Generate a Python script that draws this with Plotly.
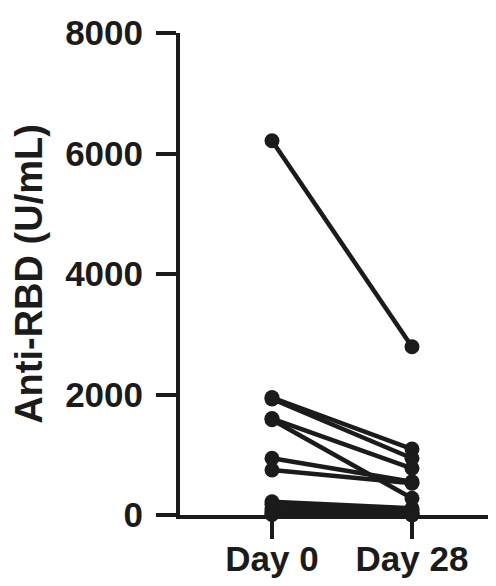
import plotly.graph_objects as go

categories = ["Day 0", "Day 28"]
day0 = [6212, 1950, 1925, 1600, 1580, 941, 747, 221, 180, 111, 60, 30, 10]
day28 = [2793, 1095, 941, 775, 277, 553, 526, 111, 80, 40, 20, 10, 0]
y_ticks = [0, 2000, 4000, 6000, 8000]

ink = "#1b1b1b"
fig = go.Figure()
for a, b in zip(day0, day28):
    fig.add_trace(go.Scatter(
        x=[0, 1], y=[a, b], mode="lines+markers",
        line=dict(color=ink, width=4.5),
        marker=dict(color=ink, size=15),
        cliponaxis=False, showlegend=False, hoverinfo="skip"))

font = dict(family="Liberation Sans, Arial, sans-serif", size=35, color=ink, weight="bold")
fig.update_layout(
    width=488, height=570,
    margin=dict(l=172, r=0, t=25, b=63),
    plot_bgcolor="white", paper_bgcolor="white",
    font=font,
)
fig.update_xaxes(
    range=[-0.657, 1.6], tickvals=[0, 1], ticktext=categories,
    showgrid=False, zeroline=False, showline=True, linecolor=ink, linewidth=4,
    ticks="outside", ticklen=20, tickwidth=4, tickcolor=ink,
    tickfont=font, ticklabelstandoff=-10, automargin=False,
)
fig.update_yaxes(
    range=[0, 8000], tickvals=y_ticks, ticktext=[str(v) for v in y_ticks],
    showgrid=False, zeroline=False, showline=True, linecolor=ink, linewidth=4,
    ticks="outside", ticklen=20, tickwidth=4, tickcolor=ink,
    tickfont=font, ticklabelstandoff=6, automargin=False,
    title=dict(text="Anti-RBD (U/mL)", font=dict(family="Liberation Sans, Arial, sans-serif", size=38, color=ink, weight="bold"), standoff=18),
)
fig.write_html("out.html")
